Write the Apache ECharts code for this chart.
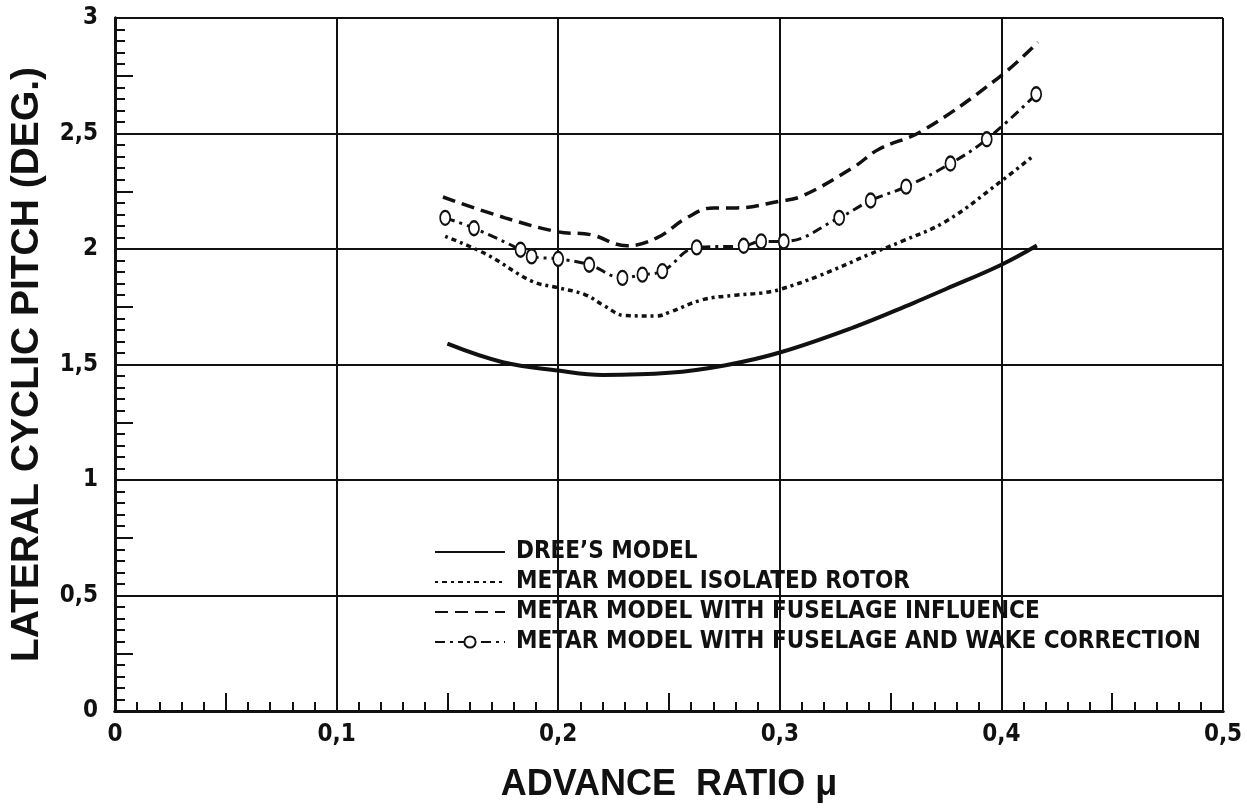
<!DOCTYPE html>
<html>
<head>
<meta charset="utf-8">
<script src="https://cdn.jsdelivr.net/npm/echarts@6/dist/echarts.min.js"></script>
<style>
  html, body { margin: 0; padding: 0; background: #fff; }
  #chart { width: 1247px; height: 808px; }
</style>
</head>
<body>
<div id="chart"></div>
<script>
// values: [advance ratio, lateral cyclic pitch (deg)]
const dreesModel = [
  [0.15, 1.59], [0.175, 1.51], [0.2, 1.474], [0.22, 1.455], [0.25, 1.464],
  [0.275, 1.496], [0.3, 1.552], [0.333, 1.66], [0.36, 1.765], [0.375, 1.827],
  [0.4, 1.932], [0.416, 2.015]
]
const isolatedRotor = [
  [0.149, 2.055], [0.168, 1.975], [0.188, 1.861], [0.2, 1.832], [0.212, 1.803],
  [0.221, 1.753], [0.23, 1.712], [0.2445, 1.71], [0.2505, 1.727], [0.265, 1.78],
  [0.28, 1.8], [0.292, 1.81], [0.3, 1.825], [0.318, 1.885], [0.34, 1.975],
  [0.355, 2.033], [0.375, 2.12], [0.399, 2.287], [0.4135, 2.396]
]
const fuselageInfluence = [
  [0.148, 2.225], [0.176, 2.135], [0.2, 2.074], [0.2147, 2.062], [0.231, 2.014],
  [0.2445, 2.048], [0.258, 2.135], [0.27, 2.178], [0.2804, 2.178], [0.3, 2.207],
  [0.31, 2.229], [0.333, 2.352], [0.3447, 2.432], [0.364, 2.51], [0.3985, 2.74],
  [0.4165, 2.895]
]
const wakeCorrection = [
  [0.149, 2.135], [0.162, 2.09], [0.183, 1.997], [0.188, 1.968], [0.2, 1.957],
  [0.214, 1.932], [0.229, 1.875], [0.238, 1.889], [0.247, 1.904], [0.2625, 2.007],
  [0.2837, 2.014], [0.2916, 2.033], [0.3018, 2.033], [0.3268, 2.135], [0.341, 2.21],
  [0.357, 2.27], [0.377, 2.37], [0.3934, 2.475], [0.4157, 2.67]
]

const xTickLabels = ['0', '0,1', '0,2', '0,3', '0,4', '0,5']
const yTickLabels = ['0', '0,5', '1', '1,5', '2', '2,5', '3']
const seriesNames = [
  'DREE\u2019S MODEL',
  'METAR MODEL ISOLATED ROTOR',
  'METAR MODEL WITH FUSELAGE INFLUENCE',
  'METAR MODEL WITH FUSELAGE AND WAKE CORRECTION'
]

const ink = '#111'
const narrow = '"DejaVu Sans Condensed", "Liberation Sans Narrow", "Arial Narrow", sans-serif'
const wide = '"Liberation Sans", Arial, sans-serif'

const chart = echarts.init(document.getElementById('chart'))

// the three plain lines get no marker in the legend
const noMark = { opacity: 0 }

chart.setOption({
  backgroundColor: '#fff',
  animation: false,
  grid: { left: 108, right: 24, top: 18, bottom: 92 },
  legend: {
    orient: 'vertical',
    left: 434,
    top: 539,
    padding: 0,
    itemWidth: 70,
    itemHeight: 14,
    itemGap: 4,
    data: [
      { name: seriesNames[0], itemStyle: noMark },
      { name: seriesNames[1], itemStyle: noMark },
      { name: seriesNames[2], itemStyle: noMark },
      { name: seriesNames[3] }
    ],
    textStyle: {
      color: ink,
      fontFamily: narrow,
      fontWeight: 'bold',
      fontSize: 24,
      lineHeight: 26,
      padding: [0, 0, 0, 6]
    }
  },
  xAxis: [
    {
      type: 'value',
      min: 0,
      max: 0.5,
      interval: 0.1,
      name: 'ADVANCE  RATIO \u03bc',
      nameLocation: 'middle',
      nameGap: 56,
      nameTextStyle: { color: ink, fontFamily: wide, fontWeight: 'bold', fontSize: 36 },
      axisLine: { show: true, lineStyle: { color: ink, width: 3 } },
      axisTick: { show: false },
      axisLabel: {
        color: ink,
        fontFamily: narrow,
        fontWeight: 'bold',
        fontSize: 24,
        margin: 12,
        formatter: (v) => xTickLabels[Math.round(v * 10)]
      },
      splitLine: { show: true, lineStyle: { color: ink, width: 2 } }
    },
    {
      type: 'value',
      min: 0,
      max: 0.5,
      interval: 0.05,
      position: 'bottom',
      axisLine: { show: true, lineStyle: { color: ink, width: 3 } },
      axisTick: { show: true, inside: true, length: 18, lineStyle: { color: ink, width: 2 } },
      minorTick: { show: true, splitNumber: 5, length: 9, lineStyle: { color: ink, width: 2 } },
      axisLabel: { show: false },
      splitLine: { show: false }
    }
  ],
  yAxis: [
    {
      type: 'value',
      min: 0,
      max: 3,
      interval: 0.5,
      name: 'LATERAL CYCLIC PITCH (DEG.)',
      nameLocation: 'middle',
      nameGap: 68,
      nameTextStyle: { color: ink, fontFamily: wide, fontWeight: 'bold', fontSize: 39 },
      axisLine: { show: true, lineStyle: { color: ink, width: 3 } },
      axisTick: { show: false },
      axisLabel: {
        color: ink,
        fontFamily: narrow,
        fontWeight: 'bold',
        fontSize: 24,
        margin: 17,
        formatter: (v) => yTickLabels[Math.round(v * 2)]
      },
      splitLine: { show: true, lineStyle: { color: ink, width: 2 } }
    },
    {
      type: 'value',
      min: 0,
      max: 3,
      interval: 0.25,
      position: 'left',
      axisLine: { show: true, lineStyle: { color: ink, width: 3 } },
      axisTick: { show: true, inside: true, length: 18, lineStyle: { color: ink, width: 2 } },
      minorTick: { show: true, splitNumber: 5, length: 10, lineStyle: { color: ink, width: 2 } },
      axisLabel: { show: false },
      splitLine: { show: false }
    }
  ],
  series: [
    {
      name: seriesNames[0],
      type: 'line',
      data: dreesModel,
      smooth: 0.4,
      symbol: 'none',
      lineStyle: { color: ink, width: 4, type: 'solid' },
      itemStyle: { color: ink }
    },
    {
      name: seriesNames[1],
      type: 'line',
      data: isolatedRotor,
      smooth: 0.4,
      symbol: 'none',
      lineStyle: { color: ink, width: 3.5, type: [3, 4, 5, 4] },
      itemStyle: { color: ink }
    },
    {
      name: seriesNames[2],
      type: 'line',
      data: fuselageInfluence,
      smooth: 0.4,
      symbol: 'none',
      lineStyle: { color: ink, width: 3.5, type: [13, 7] },
      itemStyle: { color: ink }
    },
    {
      name: seriesNames[3],
      type: 'line',
      data: wakeCorrection,
      smooth: 0.4,
      symbol: 'emptyCircle',
      symbolSize: [10, 14],
      lineStyle: { color: ink, width: 3, type: [10, 5, 3, 5] },
      itemStyle: { color: ink, borderColor: ink, borderWidth: 2 }
    }
  ]
})
</script>
</body>
</html>
